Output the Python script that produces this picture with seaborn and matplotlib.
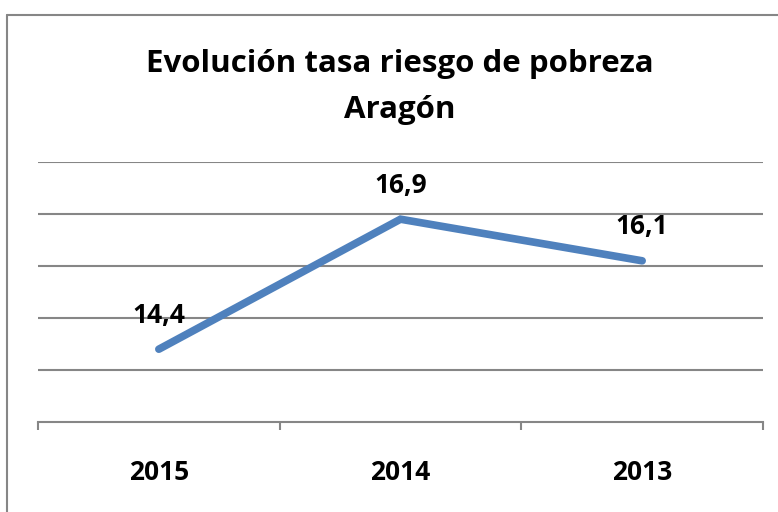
import matplotlib
matplotlib.use('Agg')
import matplotlib.pyplot as plt
import seaborn as sns
import pandas as pd
from matplotlib.lines import Line2D

# Data
years = ['2015', '2014', '2013']
rate = [14.4, 16.9, 16.1]
value_labels = ['14,4', '16,9', '16,1']

df = pd.DataFrame({'year': years, 'rate': rate})

sns.set_style('white')
plt.rcParams['font.family'] = ['Open Sans', 'DejaVu Sans']
plt.rcParams['text.color'] = 'black'
plt.rcParams['xtick.color'] = 'black'

fig = plt.figure(figsize=(7.78, 5.12), dpi=100)
ax = fig.add_axes([38 / 778, 90 / 512, 725 / 778, 260 / 512])

sns.lineplot(data=df, x='year', y='rate', ax=ax, color='#4F81BD',
             linewidth=5.5, sort=False, solid_capstyle='round', solid_joinstyle='miter')

ax.set_xlim(-0.5, 2.5)
ax.set_ylim(13, 18)
ax.set_yticks([14, 15, 16, 17, 18])
ax.yaxis.grid(True, color='#868686', linewidth=1.5)
ax.set_yticklabels([])
ax.tick_params(axis='y', length=0)
ax.set_xlabel('')
ax.set_ylabel('')

for s in ['left', 'right', 'top']:
    ax.spines[s].set_visible(False)
ax.spines['bottom'].set_color('#868686')
ax.spines['bottom'].set_linewidth(1.5)

# category labels without ticks, tick marks between categories
ax.set_xticks([0, 1, 2])
ax.set_xticklabels(years, fontsize=19, fontweight='bold', color='black')
ax.tick_params(axis='x', length=0, pad=27)
ax.set_xticks([-0.5, 0.5, 1.5, 2.5], minor=True)
ax.tick_params(axis='x', which='minor', bottom=True, length=6, width=1.5,
               color='#868686', direction='out')

for i, (x, y) in enumerate(zip(years, rate)):
    ax.annotate(value_labels[i], (i, y), xytext=(0, 19), textcoords='offset points',
                ha='center', va='baseline', fontsize=19, fontweight='bold', color='black')

fig.text(400 / 778, 1 - 72 / 512, 'Evolución tasa riesgo de pobreza', ha='center', va='baseline',
         fontsize=22.5, fontweight='bold', color='black')
fig.text(400 / 778, 1 - 118 / 512, 'Aragón', ha='center', va='baseline',
         fontsize=22.5, fontweight='bold', color='black')

# chart border (partly cropped)
fig.add_artist(Line2D([7 / 778, 7 / 778], [0, 1 - 15 / 512], transform=fig.transFigure,
                      color='#868686', linewidth=1.5))
fig.add_artist(Line2D([7 / 778, 1], [1 - 15 / 512, 1 - 15 / 512], transform=fig.transFigure,
                      color='#868686', linewidth=1.5))

fig.savefig('out.png', dpi=100)
